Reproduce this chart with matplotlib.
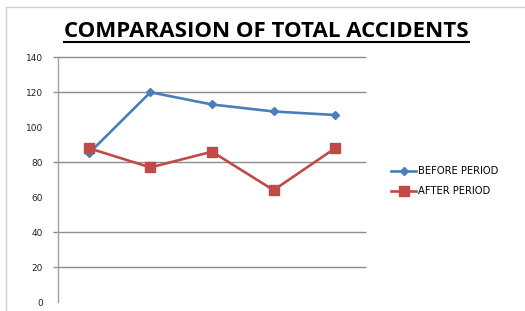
import matplotlib
matplotlib.use("Agg")
import matplotlib.pyplot as plt
from matplotlib.lines import Line2D

# data
periods = ["1", "2", "3", "4", "5"]
before_period = [85, 120, 113, 109, 107]
after_period = [88, 77, 86, 64, 88]
y_ticks = [0, 20, 40, 60, 80, 100, 120, 140]
grid_values = [20, 40, 80, 120, 140]  # only these gridlines show in the reference

BLUE = "#4a7ebb"
RED = "#be4b48"
GRID = "#8c8c8c"

W, H = 525, 311
fig = plt.figure(figsize=(W / 100, H / 100), dpi=100)

# outer chart frame: only top and left edges are inside the crop
fig.add_artist(Line2D([6 / W, 6 / W, 1], [0, 1 - 7 / H, 1 - 7 / H], color="#cfcfcf", lw=1.0,
                      transform=fig.transFigure))

ax = fig.add_axes([58 / W, 9 / H, 308 / W, (302 - 57.3) / H])
x = list(range(len(periods)))
ax.plot(x, before_period, color=BLUE, lw=1.9, marker="D", ms=4.5, label="BEFORE PERIOD", zorder=3)
ax.plot(x, after_period, color=RED, lw=1.9, marker="s", ms=6.5, label="AFTER PERIOD", zorder=3)

ax.set_xlim(-0.5, len(periods) - 0.5)
ax.set_ylim(0, 140)
ax.set_yticks(y_ticks)
ax.set_xticks([])
ax.tick_params(axis="y", length=0, pad=11, labelsize=6.5, labelcolor="#222222")
for s in ["top", "right", "bottom"]:
    ax.spines[s].set_visible(False)
ax.spines["left"].set_color("#a0a0a0")
ax.spines["left"].set_linewidth(1.0)
ax.hlines(grid_values, -5 / 308, 1, transform=ax.get_yaxis_transform(),
          color=GRID, lw=1.0, clip_on=False, zorder=1)

leg = fig.legend(loc="upper left", bbox_to_anchor=(386 / W, 1 - 161 / H), frameon=False,
                 fontsize=7.2, handlelength=2.5, handletextpad=0.25, labelspacing=1.0,
                 borderpad=0)

title = fig.text(266.5 / W, 1 - 31.5 / H, "COMPARASION OF TOTAL ACCIDENTS", ha="center",
                 va="center", fontsize=14, fontweight="bold", family="Open Sans")
fig.canvas.draw()
w = title.get_window_extent().width
title.set_fontsize(14 * 407 / w)
fig.canvas.draw()
bb = title.get_window_extent().transformed(fig.transFigure.inverted())
fig.add_artist(Line2D([bb.x0, bb.x1], [1 - 41.5 / H] * 2, color="black", lw=1.5,
                      transform=fig.transFigure))

fig.savefig("out.png", dpi=100)
